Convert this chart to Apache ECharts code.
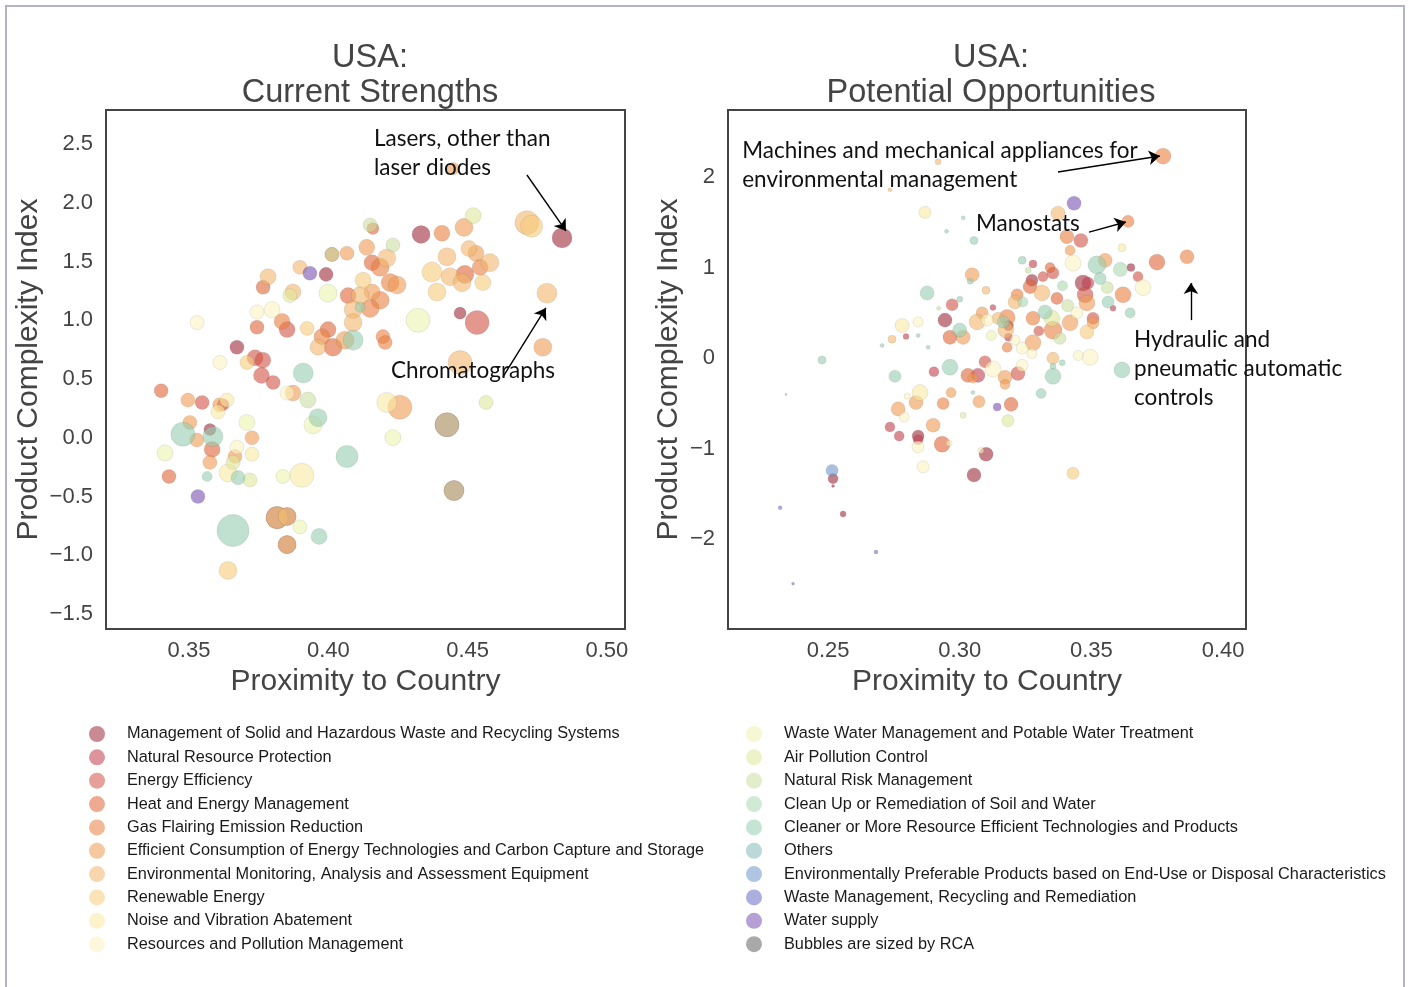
<!DOCTYPE html>
<html><head><meta charset="utf-8">
<script src="https://cdn.jsdelivr.net/npm/echarts@6.0.0/dist/echarts.min.js"></script>
<style>html,body{margin:0;padding:0;background:#fff}#c{width:1409px;height:987px}</style>
</head><body><div id="c"></div>
<script>
// ---- categories (legend order) ----
const categories = [
  'Management of Solid and Hazardous Waste and Recycling Systems',
  'Natural Resource Protection',
  'Energy Efficiency',
  'Heat and Energy Management',
  'Gas Flairing Emission Reduction',
  'Efficient Consumption of Energy Technologies and Carbon Capture and Storage',
  'Environmental Monitoring, Analysis and Assessment Equipment',
  'Renewable Energy',
  'Noise and Vibration Abatement',
  'Resources and Pollution Management',
  'Waste Water Management and Potable Water Treatment',
  'Air Pollution Control',
  'Natural Risk Management',
  'Clean Up or Remediation of Soil and Water',
  'Cleaner or More Resource Efficient Technologies and Products',
  'Others',
  'Environmentally Preferable Products based on End-Use or Disposal Characteristics',
  'Waste Management, Recycling and Remediation',
  'Water supply'
];
const sizeNote = 'Bubbles are sized by RCA';
const colors = ['#9d2a3b','#c23d4d','#d15245','#de6435','#e97e3f','#ef9b51','#f2b56c','#f6cc7a','#faeaa3','#fcf3c0',
                '#edf3ae','#e0e79b','#cbdea3','#acd9b3','#96cdaf','#81bab8','#6f96cb','#676cc7','#7851b3'];
const sizeNoteColor = '#636363';

// ---- tick labels ----
const leftXTicks = [0.35, 0.40, 0.45, 0.50];
const leftYTicks = [-1.5, -1.0, -0.5, 0.0, 0.5, 1.0, 1.5, 2.0, 2.5];
const rightXTicks = [0.25, 0.30, 0.35, 0.40];
const rightYTicks = [-2, -1, 0, 1, 2];

// ---- points: [proximity, PCI, RCA, category] ----
const leftPoints = [
[.4839,1.70,6.3,0],[.4448,2.29,2.3,5],[.4713,1.83,9.0,6],[.4730,1.80,7.6,7],[.4520,1.89,4.0,11],
[.4487,1.79,5.1,5],[.4408,1.74,4.0,4],[.4333,1.73,5.1,0],[.4505,1.61,4.0,6],[.4426,1.54,5.1,6],
[.4530,1.57,4.0,5],[.4580,1.49,5.1,6],[.4545,1.45,4.0,4],[.4372,1.41,6.3,7],[.4437,1.37,5.1,6],
[.4490,1.39,5.1,3],[.4480,1.32,5.1,6],[.4555,1.32,4.0,7],[.4390,1.24,5.1,7],[.4785,1.23,6.3,6],
[.4473,1.06,2.3,0],[.4534,0.98,9.0,2],[.4322,1.00,9.0,10],[.4770,0.77,5.1,5],[.4150,1.81,3.1,12],
[.4160,1.78,2.3,3],[.4138,1.62,4.0,5],[.4232,1.64,3.1,12],[.4067,1.57,3.1,5],[.4013,1.56,3.1,3],
[.4013,1.56,3.1,12],[.4157,1.49,4.0,3],[.4186,1.45,5.1,4],[.4210,1.53,5.1,6],[.3934,1.40,3.1,18],
[.3992,1.39,3.1,0],[.3898,1.45,3.1,6],[.3784,1.37,4.0,6],[.3766,1.28,3.1,3],[.3873,1.24,4.0,6],
[.3862,1.21,3.1,11],[.3999,1.23,5.1,10],[.4071,1.21,4.0,3],[.4125,1.34,4.0,7],[.4114,1.21,5.1,6],
[.4157,1.24,4.0,5],[.4222,1.32,5.1,4],[.4247,1.30,5.1,5],[.4186,1.17,5.1,4],[.4150,1.10,5.1,4],
[.4089,1.09,5.1,6],[.4114,1.11,1.6,14],[.3744,1.07,3.1,9],[.3798,1.09,4.0,9],[.3834,0.99,4.0,4],
[.3744,0.94,3.1,3],[.3852,0.92,4.0,2],[.3924,0.93,3.1,7],[.3999,0.92,4.0,3],[.3529,0.98,3.1,9],
[.4089,0.98,5.1,6],[.4196,0.86,3.1,4],[.4204,0.81,3.1,4],[.3977,0.86,4.0,4],[.4017,0.77,5.1,3],
[.4060,0.83,5.1,5],[.4089,0.83,6.3,14],[.3963,0.77,4.0,6],[.3672,0.77,3.1,0],[.3611,0.64,3.1,9],
[.3708,0.64,3.1,7],[.3737,0.68,4.0,2],[.3765,0.66,4.0,2],[.3400,0.40,3.1,3],[.3496,0.32,3.1,5],
[.3547,0.30,3.1,2],[.3610,0.28,3.1,5],[.3622,0.28,2.3,1],[.3636,0.32,3.1,8],[.3604,0.22,3.1,8],
[.3503,0.13,3.1,5],[.3575,0.07,2.3,0],[.3478,0.03,9.0,14],[.3528,-0.02,3.1,5],[.3586,0.01,6.3,14],
[.3583,-0.10,4.0,3],[.3575,-0.21,3.1,5],[.3414,-0.13,4.0,10],[.3428,-0.33,3.1,3],[.3565,-0.33,1.6,14],
[.3532,-0.50,3.1,18],[.3640,-0.30,5.1,8],[.3665,-0.16,3.1,5],[.3658,-0.21,3.1,11],[.3676,-0.34,3.1,14],
[.3719,-0.36,3.1,11],[.3672,-0.08,3.1,9],[.3726,0.00,3.1,5],[.3726,-0.14,3.1,8],[.3708,0.13,4.0,10],
[.3837,-0.33,3.1,10],[.3905,-0.32,9.0,8],[.3852,0.38,3.1,9],[.3873,0.38,4.0,5],[.3927,0.32,4.0,12],
[.3910,0.55,6.3,14],[.3802,0.47,3.1,2],[.3760,0.53,4.0,2],[.3963,0.17,5.1,14],[.3945,0.11,5.1,10],
[.4067,-0.16,7.6,14],[.4210,0.30,6.3,8],[.4257,0.26,9.0,5],[.4232,0.00,4.0,10],[.4426,0.11,9.0,0],
[.4426,0.11,9.0,12],[.4566,0.30,3.1,11],[.4451,-0.45,6.3,0],[.4451,-0.45,6.3,12],[.3658,-0.79,16.0,14],
[.3816,-0.68,7.6,0],[.3816,-0.68,7.6,7],[.3852,-0.67,5.1,0],[.3852,-0.67,5.1,7],[.3898,-0.76,3.1,10],
[.3967,-0.84,4.0,14],[.3852,-0.91,5.1,0],[.3852,-0.91,5.1,7],[.3640,-1.13,5.1,7],[.4473,0.64,9.0,6]
];
const rightPoints = [
[.3772,2.23,4.0,4],[.2918,2.17,0.56,6],[.2735,1.86,0.25,6],[.3434,1.71,3.1,18],[.3373,1.60,3.1,6],
[.2868,1.61,2.3,8],[.3013,1.55,0.25,14],[.2950,1.40,0.25,14],[.3054,1.30,1.0,14],[.3639,1.51,2.3,4],
[.3407,1.34,3.1,4],[.3460,1.30,3.1,2],[.3419,1.19,1.6,5],[.3616,1.22,1.0,8],[.3749,1.06,4.0,3],
[.3863,1.12,3.1,4],[.3430,1.05,4.0,9],[.3521,1.03,5.1,14],[.3552,1.08,3.1,5],[.3533,0.88,2.3,14],
[.3677,0.90,1.6,2],[.3696,0.78,4.0,9],[.3620,0.70,4.0,4],[.3563,0.62,2.3,14],[.3582,0.55,0.56,1],
[.3647,0.50,1.6,14],[.3237,1.08,1.0,14],[.3278,1.04,1.0,1],[.3354,0.94,2.3,2],[.3343,1.00,1.6,3],
[.3274,0.86,2.3,0],[.3267,0.79,3.1,3],[.3312,0.72,4.0,6],[.3316,0.90,1.6,2],[.3468,0.83,4.0,0],
[.3487,0.83,2.3,1],[.3476,0.70,4.0,2],[.3483,0.61,4.0,5],[.3369,0.66,2.3,3],[.3218,0.70,2.3,4],
[.3210,0.62,3.1,6],[.3047,0.92,3.1,5],[.3040,0.85,0.56,14],[.2876,0.72,3.1,14],[.3126,0.56,0.56,1],
[.2971,0.59,2.3,2],[.3324,0.51,3.1,14],[.3278,0.44,3.1,4],[.3350,0.44,4.0,11],[.3354,0.31,5.1,4],
[.3419,0.39,4.0,5],[.3445,0.50,2.3,9],[.3506,0.44,2.3,2],[.3506,0.39,2.3,5],[.3483,0.29,3.1,7],
[.3180,0.45,4.0,4],[.3165,0.40,2.3,14],[.3145,0.44,2.3,6],[.3185,0.36,1.6,0],[.3175,0.31,4.0,6],
[.3085,0.50,2.3,5],[.3066,0.40,4.0,6],[.3104,0.42,2.3,9],[.3000,0.31,3.1,14],[.3013,0.23,3.1,5],
[.2963,0.23,3.1,3],[.2944,0.42,3.1,0],[.2842,0.40,1.6,9],[.2781,0.36,3.1,8],[.2743,0.21,1.0,6],
[.2796,0.24,0.56,1],[.2842,0.25,0.25,14],[.2880,0.12,0.25,14],[.2705,0.14,0.25,14],[.2477,-0.02,1.0,14],
[.3237,0.11,2.3,9],[.3278,0.17,4.0,5],[.3180,0.12,1.6,4],[.3210,0.20,1.6,9],[.3274,0.05,1.6,9],
[.3354,0.00,2.3,6],[.3495,0.01,4.0,9],[.3389,-0.05,0.56,14],[.2963,-0.10,4.0,14],[.2902,-0.15,1.6,1],
[.2754,-0.20,2.3,14],[.3031,-0.19,3.1,3],[.3069,-0.19,3.1,1],[.3050,-0.22,1.6,5],[.3126,-0.12,4.0,9],
[.3096,-0.04,2.3,2],[.3172,-0.21,3.1,5],[.3172,-0.29,1.6,5],[.3221,-0.17,3.1,2],[.3237,-0.08,2.3,9],
[.3354,-0.20,4.0,14],[.3309,-0.39,1.6,14],[.3354,-0.09,0.56,14],[.3450,0.03,1.6,9],[.3616,-0.13,4.0,14],
[.2849,-0.38,4.0,8],[.2834,-0.49,3.1,5],[.2800,-0.42,0.56,9],[.2766,-0.56,3.1,5],[.2789,-0.65,1.6,9],
[.2967,-0.38,1.6,5],[.2937,-0.50,2.3,4],[.3013,-0.63,0.56,11],[.3050,-0.38,0.25,14],[.3073,-0.48,2.3,5],
[.3142,-0.54,1.0,18],[.3195,-0.51,3.1,3],[.3183,-0.69,2.3,11],[.2899,-0.74,3.1,5],[.2735,-0.76,1.6,1],
[.2770,-0.86,1.6,1],[.2842,-0.86,2.3,0],[.2842,-0.90,1.6,1],[.2842,-0.98,2.3,9],[.2933,-0.95,4.0,3],
[.2960,-0.94,0.56,9],[.2861,-1.20,2.3,9],[.3080,-1.02,0.56,9],[.3100,-1.06,3.1,0],[.3054,-1.29,3.1,0],
[.3430,-1.27,2.3,7],[.2340,-0.40,0.06,16],[.2515,-1.24,2.3,16],[.2519,-1.33,1.6,0],[.2519,-1.41,0.14,0],
[.2318,-1.65,0.25,17],[.2557,-1.72,0.56,0],[.2682,-2.14,0.25,17],[.2367,-2.49,0.14,17],[.3100,0.75,1.0,6],
[.3000,0.65,0.56,14],[.2920,0.55,0.25,12],[.3260,0.97,0.56,12],[.3390,0.80,1.6,13],[.3560,0.78,2.3,12],
[.3610,0.98,3.1,13],[.3650,1.00,1.0,0],[.3410,0.58,2.3,12],[.3240,0.62,1.6,13],[.3120,0.25,1.6,10],
[.3380,0.22,2.3,12],[.3300,0.30,1.6,2],[.3185,0.23,1.0,1]
];

// ---- annotations ----
const leftNotes = [
  {text:'Lasers, other than\nlaser diodes', at:[0.4164, 2.42], from:[0.4713, 2.236], to:[0.4853, 1.76]},
  {text:'Chromatographs', at:[0.4225, 0.57], from:[0.4627, 0.517], to:[0.4781, 1.104]}
];
const rightNotes = [
  {text:'Machines and mechanical appliances for\nenvironmental management', at:[0.2174, 2.127], from:[0.3373, 2.055], to:[0.3760, 2.232]},
  {text:'Manostats', at:[0.3062, 1.481], from:[0.3491, 1.392], to:[0.3631, 1.503]},
  {text:'Hydraulic and\npneumatic automatic\ncontrols', at:[0.3662, -0.122], from:[0.3878, 0.42], to:[0.3878, 0.829]}
];

const FONT = 'Liberation Sans, Arial, sans-serif';
const minus = s => s.replace('-', '\u2212');
const series = [];
function addPanel(points, notes, gi) {
  categories.forEach((name, c) => {
    series.push({
      type: 'scatter', name: name, xAxisIndex: gi, yAxisIndex: gi,
      data: points.filter(p => p[3] === c).map(p => [p[0], p[1], p[2]]),
      symbolSize: v => Math.sqrt(v[2]) * 8,
      itemStyle: {color: colors[c], opacity: 0.6, borderColor: 'rgba(70,70,70,0.3)', borderWidth: 0.6},
      emphasis: {disabled: true}, silent: true, animation: false
    });
  });
  series.push({
    type: 'scatter', name: 'notes' + gi, xAxisIndex: gi, yAxisIndex: gi, data: [], silent: true, animation: false, z: 5,
    markLine: {
      silent: true, animation: false, symbol: ['none', 'arrow'], symbolSize: 11,
      label: {show: false}, lineStyle: {color: '#000', width: 1.4, type: 'solid'},
      emphasis: {disabled: true},
      data: notes.map(n => [{coord: n.from}, {coord: n.to}])
    },
    markPoint: {
      silent: true, animation: false, symbol: 'circle', symbolSize: 0,
      itemStyle: {color: 'rgba(0,0,0,0)'},
      label: {show: true, position: 'inside', align: 'left', verticalAlign: 'middle',
              color: '#111', fontSize: 22.5, lineHeight: 29, fontFamily: 'Lato, Carlito, sans-serif'},
      data: notes.map(n => ({coord: n.at, label: {formatter: n.text}}))
    }
  });
}
addPanel(leftPoints, leftNotes, 0);
addPanel(rightPoints, rightNotes, 1);
series.push({type: 'scatter', name: sizeNote, xAxisIndex: 0, yAxisIndex: 0, data: [],
  itemStyle: {color: sizeNoteColor}});

function xAxisCfg(gi, min, max, ticks) {
  return {gridIndex: gi, type: 'value', min: min, max: max, axisLine: {show: false}, axisTick: {show: false},
    splitLine: {show: false},
    axisLabel: {customValues: ticks, formatter: v => v.toFixed(2), fontSize: 22, color: '#444', margin: 11, fontFamily: FONT},
    name: 'Proximity to Country', nameLocation: 'middle', nameGap: 38,
    nameTextStyle: {fontSize: 30, color: '#444', fontFamily: FONT}};
}
function yAxisCfg(gi, min, max, ticks, dec, gap) {
  return {gridIndex: gi, type: 'value', min: min, max: max, axisLine: {show: false}, axisTick: {show: false},
    splitLine: {show: false},
    axisLabel: {customValues: ticks, formatter: v => minus(v.toFixed(dec)), fontSize: 22, color: '#444', margin: 13, fontFamily: FONT},
    name: 'Product Complexity Index', nameLocation: 'middle', nameGap: gap,
    nameTextStyle: {fontSize: 30, color: '#444', fontFamily: FONT}};
}

const legendItem = (n, col) => ({name: n, itemStyle: {color: col, opacity: 0.55, borderWidth: 0}});
const legendBase = {orient: 'vertical', itemWidth: 50, itemHeight: 16, itemGap: 7.35, icon: 'circle',
  selectedMode: false, textStyle: {fontSize: 16.3, color: '#1a1a1a', fontFamily: FONT}};

const chart = echarts.init(document.getElementById('c'), null, {renderer: 'canvas'});
chart.setOption({
  animation: false,
  backgroundColor: '#fff',
  grid: [
    {left: 106, top: 110, width: 519, height: 519, show: true, borderColor: '#444', borderWidth: 2},
    {left: 728, top: 110, width: 518, height: 519, show: true, borderColor: '#444', borderWidth: 2}
  ],
  xAxis: [xAxisCfg(0, 0.3202, 0.5065, leftXTicks), xAxisCfg(1, 0.212, 0.4087, rightXTicks)],
  yAxis: [yAxisCfg(0, -1.628, 2.789, leftYTicks, 1, 62), yAxisCfg(1, -2.99, 2.74, rightYTicks, 0, 44)],
  legend: [
    Object.assign({left: 84, top: 721, data: categories.slice(0, 10).map((n, i) => legendItem(n, colors[i]))}, legendBase),
    Object.assign({left: 741, top: 721, data: categories.slice(10).map((n, i) => legendItem(n, colors[i + 10])).concat([legendItem(sizeNote, sizeNoteColor)])}, legendBase)
  ],
  graphic: [
    {type: 'rect', shape: {x: 6, y: 6, width: 1398, height: 992}, style: {fill: 'none', stroke: '#b4b4c8', lineWidth: 2}, silent: true},
    {type: 'text', x: 370, y: 41, style: {text: 'USA:\nCurrent Strengths', align: 'center', textAlign: 'center', verticalAlign: 'top', fontSize: 32.5, lineHeight: 35, fontFamily: FONT, fill: '#444'}},
    {type: 'text', x: 991, y: 41, style: {text: 'USA:\nPotential Opportunities', align: 'center', textAlign: 'center', verticalAlign: 'top', fontSize: 32.5, lineHeight: 35, fontFamily: FONT, fill: '#444'}}
  ],
  series: series
});
</script></body></html>
